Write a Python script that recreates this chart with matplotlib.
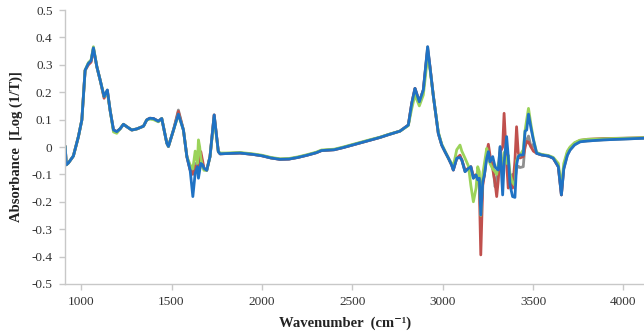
import matplotlib
matplotlib.use("Agg")
import matplotlib.pyplot as plt

# ---------------------------------------------------------------------------
# FTIR spectra, four replicate scans on a shared wavenumber grid
# ---------------------------------------------------------------------------
WAVENUMBER = [
    912, 918, 930, 957, 985, 1004, 1022, 1040, 1055, 1068,
    1087, 1105, 1127, 1145, 1160, 1179, 1197, 1215, 1234, 1253,
    1280, 1308, 1345, 1363, 1380, 1400, 1427, 1446, 1474, 1483,
    1511, 1538, 1566, 1585, 1603, 1618, 1631, 1643, 1649, 1656,
    1662, 1672, 1680, 1695, 1713, 1736, 1759, 1769, 1800, 1879,
    1950, 2000, 2050, 2100, 2150, 2200, 2250, 2300, 2330, 2400,
    2450, 2500, 2550, 2600, 2654, 2700, 2764, 2810, 2829, 2847,
    2871, 2893, 2917, 2930, 2949, 2976, 2995, 3013, 3032, 3050,
    3059, 3078, 3096, 3106, 3124, 3143, 3156, 3170, 3185, 3194,
    3203, 3211, 3222, 3231, 3244, 3253, 3262, 3277, 3290, 3299,
    3308, 3318, 3332, 3340, 3354, 3363, 3373, 3387, 3400, 3409,
    3418, 3428, 3446, 3456, 3465, 3475, 3489, 3502, 3520, 3548,
    3585, 3612, 3640, 3657, 3670, 3690, 3705, 3730, 3760, 3800,
    3889, 4000, 4110,
]

scan_grey = [
    0.000, -0.065, -0.058, -0.033, 0.038, 0.099, 0.280, 0.305, 0.315, 0.362,
    0.293, 0.245, 0.184, 0.208, 0.135, 0.062, 0.056, 0.066, 0.083, 0.074,
    0.062, 0.066, 0.076, 0.099, 0.105, 0.104, 0.094, 0.104, 0.014, 0.002,
    0.062, 0.135, 0.062, -0.035, -0.084, -0.090, -0.060, -0.090, -0.050, -0.040,
    -0.030, -0.065, -0.078, -0.085, -0.035, 0.117, -0.017, -0.025, -0.024, -0.022,
    -0.027, -0.032, -0.040, -0.045, -0.044, -0.038, -0.030, -0.021, -0.013, -0.010,
    -0.002, 0.007, 0.016, 0.025, 0.035, 0.045, 0.058, 0.080, 0.159, 0.214,
    0.165, 0.208, 0.366, 0.293, 0.184, 0.050, 0.007, -0.017, -0.041, -0.066,
    -0.084, -0.041, -0.038, -0.047, -0.090, -0.078, -0.072, -0.114, -0.102, -0.120,
    -0.114, -0.260, -0.127, -0.102, -0.030, -0.017, -0.054, -0.060, -0.145, -0.120,
    -0.080, 0.001, -0.080, -0.040, -0.010, -0.070, -0.110, -0.100, -0.120, -0.080,
    -0.070, -0.075, -0.072, 0.010, 0.026, 0.040, 0.000, 0.010, -0.023, -0.029,
    -0.033, -0.041, -0.072, -0.175, -0.080, -0.030, -0.011, 0.008, 0.019, 0.022,
    0.026, 0.029, 0.032,
]

scan_red = [
    0.000, -0.065, -0.058, -0.033, 0.038, 0.099, 0.280, 0.300, 0.310, 0.358,
    0.293, 0.245, 0.178, 0.205, 0.135, 0.062, 0.056, 0.066, 0.083, 0.074,
    0.062, 0.066, 0.076, 0.099, 0.105, 0.104, 0.094, 0.104, 0.014, 0.002,
    0.062, 0.130, 0.062, -0.035, -0.084, -0.100, -0.070, -0.085, -0.060, -0.030,
    -0.017, -0.050, -0.078, -0.085, -0.035, 0.117, -0.017, -0.025, -0.024, -0.022,
    -0.027, -0.032, -0.040, -0.045, -0.044, -0.038, -0.030, -0.021, -0.013, -0.010,
    -0.002, 0.007, 0.016, 0.025, 0.035, 0.045, 0.058, 0.080, 0.159, 0.214,
    0.165, 0.208, 0.355, 0.293, 0.184, 0.050, 0.007, -0.017, -0.041, -0.066,
    -0.084, -0.041, -0.030, -0.047, -0.085, -0.078, -0.072, -0.105, -0.102, -0.110,
    -0.150, -0.394, -0.140, -0.102, -0.020, 0.010, -0.030, -0.080, -0.130, -0.181,
    -0.120, -0.020, 0.000, 0.123, -0.060, -0.150, -0.120, -0.150, -0.050, 0.074,
    -0.020, -0.040, -0.035, 0.000, 0.020, 0.018, 0.000, -0.015, -0.023, -0.029,
    -0.033, -0.041, -0.072, -0.175, -0.075, -0.020, -0.002, 0.014, 0.024, 0.028,
    0.031, 0.032, 0.034,
]

scan_green = [
    0.000, -0.065, -0.058, -0.033, 0.038, 0.099, 0.280, 0.308, 0.318, 0.366,
    0.293, 0.245, 0.184, 0.200, 0.135, 0.055, 0.050, 0.066, 0.083, 0.074,
    0.062, 0.066, 0.076, 0.099, 0.102, 0.100, 0.092, 0.104, 0.014, 0.002,
    0.062, 0.118, 0.062, -0.035, -0.065, -0.080, -0.015, -0.060, 0.026, 0.000,
    -0.040, -0.075, -0.085, -0.085, -0.035, 0.105, -0.017, -0.022, -0.022, -0.020,
    -0.025, -0.030, -0.038, -0.043, -0.042, -0.036, -0.028, -0.019, -0.011, -0.008,
    0.000, 0.009, 0.018, 0.027, 0.036, 0.046, 0.058, 0.078, 0.140, 0.190,
    0.150, 0.190, 0.330, 0.285, 0.184, 0.055, 0.010, -0.015, -0.041, -0.060,
    -0.070, -0.010, 0.007, -0.015, -0.041, -0.070, -0.140, -0.200, -0.150, -0.072,
    -0.090, -0.250, -0.100, -0.060, -0.005, -0.030, -0.060, -0.080, -0.090, -0.100,
    -0.060, -0.050, -0.080, -0.020, -0.060, -0.030, -0.100, -0.130, -0.140, -0.050,
    -0.035, -0.030, -0.010, 0.060, 0.100, 0.141, 0.080, 0.030, -0.020, -0.027,
    -0.031, -0.038, -0.060, -0.150, -0.060, -0.015, 0.000, 0.016, 0.025, 0.028,
    0.030, 0.032, 0.034,
]

scan_blue = [
    0.000, -0.065, -0.058, -0.033, 0.038, 0.099, 0.280, 0.305, 0.315, 0.362,
    0.293, 0.245, 0.184, 0.208, 0.135, 0.062, 0.056, 0.066, 0.083, 0.074,
    0.062, 0.066, 0.076, 0.099, 0.105, 0.104, 0.094, 0.104, 0.014, 0.002,
    0.062, 0.120, 0.062, -0.035, -0.084, -0.181, -0.096, -0.072, -0.114, -0.085,
    -0.060, -0.065, -0.078, -0.085, -0.035, 0.117, -0.017, -0.025, -0.024, -0.022,
    -0.027, -0.032, -0.040, -0.045, -0.044, -0.038, -0.030, -0.021, -0.013, -0.010,
    -0.002, 0.007, 0.016, 0.025, 0.035, 0.045, 0.058, 0.080, 0.159, 0.214,
    0.165, 0.208, 0.366, 0.293, 0.184, 0.050, 0.007, -0.017, -0.041, -0.066,
    -0.084, -0.041, -0.038, -0.047, -0.090, -0.078, -0.072, -0.114, -0.102, -0.120,
    -0.114, -0.248, -0.127, -0.102, -0.041, -0.017, -0.054, -0.035, -0.072, -0.080,
    -0.084, 0.001, -0.175, -0.060, 0.038, -0.035, -0.140, -0.181, -0.184, -0.066,
    -0.035, -0.029, -0.029, 0.058, 0.062, 0.120, 0.068, 0.026, -0.023, -0.029,
    -0.033, -0.041, -0.072, -0.175, -0.080, -0.030, -0.011, 0.008, 0.019, 0.022,
    0.026, 0.029, 0.032,
]

SCANS = [
    (scan_grey, "#8f8f8f"),
    (scan_red, "#c0504d"),
    (scan_green, "#9bd35a"),
    (scan_blue, "#1f72c4"),
]

Y_TICKS = [-0.5, -0.4, -0.3, -0.2, -0.1, 0, 0.1, 0.2, 0.3, 0.4, 0.5]
Y_TICK_LABELS = ["-0.5", "-0.4", "-0.3", "-0.2", "-0.1", "0",
                 "0.1", "0.2", "0.3", "0.4", "0.5"]
X_TICKS = [1000, 1500, 2000, 2500, 3000, 3500, 4000]

plt.rcParams["font.family"] = ["Liberation Serif", "DejaVu Serif"]

fig = plt.figure(figsize=(6.44, 3.36), dpi=100)
ax = fig.add_axes([0.101, 0.155, 0.899, 0.815])

for values, color in SCANS:
    ax.plot(WAVENUMBER, values, color=color, lw=2.0, solid_joinstyle="round")

ax.set_xlim(911, 4114)
ax.set_ylim(-0.5, 0.5)
ax.set_xticks(X_TICKS)
ax.set_yticks(Y_TICKS)
ax.set_yticklabels(Y_TICK_LABELS)

for side in ("top", "right"):
    ax.spines[side].set_visible(False)
for side in ("left", "bottom"):
    ax.spines[side].set_color("#c8c8c8")
    ax.spines[side].set_linewidth(1.0)

ax.tick_params(axis="both", direction="out", length=4, width=1.0,
               color="#c8c8c8", labelsize=9.5, labelcolor="#333333")
ax.tick_params(axis="y", pad=5)
ax.tick_params(axis="x", pad=5)

ax.set_xlabel("Wavenumber  (cm\u207b\u00b9)", fontsize=10.5, fontweight="bold",
              color="#222222", x=0.484, labelpad=6)
ax.set_ylabel("Absorbance  [Log (1/T)]", fontsize=10.5, fontweight="bold",
              color="#222222", labelpad=6)

fig.savefig("out.png", dpi=100)
